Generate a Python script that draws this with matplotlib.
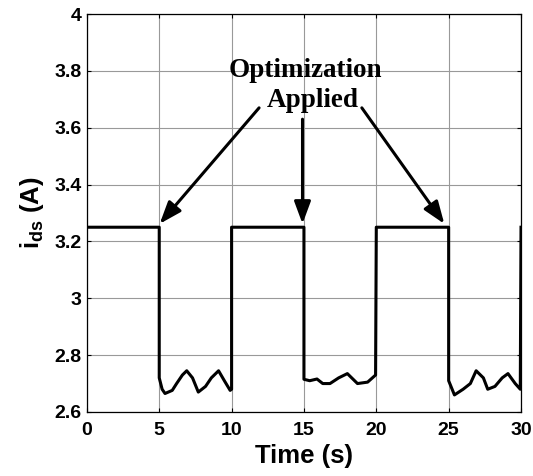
"""
Stator d-axis current with the optimization steps marked.
"""
import matplotlib
matplotlib.use("Agg")
import matplotlib.pyplot as plt

# measured current trace (time in s, current in A)
time = [0, 5.0, 5.0, 5.2, 5.4, 5.9, 6.2, 6.6, 6.9, 7.3, 7.7, 8.2, 8.6, 9.1, 9.5, 9.9,
        10.0, 10.0, 15.0, 15.0, 15.4, 15.9, 16.3, 16.8, 17.4, 18.0, 18.4, 18.7,
        19.4, 19.95, 20.0, 20.0, 25.0, 25.0, 25.4, 26.0, 26.5, 26.9, 27.4, 27.7,
        28.2, 28.7, 29.1, 29.6, 29.95, 30.0]
ids = [3.25, 3.25, 2.72, 2.68, 2.665, 2.676, 2.70, 2.73, 2.745, 2.72, 2.67, 2.69,
       2.72, 2.745, 2.71, 2.676, 2.68, 3.25, 3.25, 2.715, 2.71, 2.716, 2.70, 2.70,
       2.72, 2.735, 2.715, 2.70, 2.705, 2.73, 3.25, 3.25, 3.25, 2.71, 2.66, 2.68,
       2.70, 2.745, 2.72, 2.68, 2.69, 2.72, 2.735, 2.70, 2.68, 3.25]

xticks = [0, 5, 10, 15, 20, 25, 30]
yticks = [2.6, 2.8, 3.0, 3.2, 3.4, 3.6, 3.8, 4.0]
yticklabels = ["2.6", "2.8", "3", "3.2", "3.4", "3.6", "3.8", "4"]

# annotation: two text lines and the three arrows
note_lines = ["Optimization", "Applied"]
note_pos = [(15.1, 3.80), (15.6, 3.695)]
arrow_starts = [(11.9, 3.67), (14.9, 3.63), (19.0, 3.67)]
arrow_tips = [(5.03, 3.262), (14.9, 3.262), (24.7, 3.262)]

plt.rcParams["font.family"] = ["Liberation Sans", "DejaVu Sans"]
plt.rcParams["mathtext.fontset"] = "custom"
plt.rcParams["mathtext.rm"] = "Liberation Sans:bold"
plt.rcParams["mathtext.bf"] = "Liberation Sans:bold"

fig = plt.figure(figsize=(5.33, 4.76), dpi=100)
ax = fig.add_axes([0.163, 0.1345, 0.8145, 0.836])

ax.plot(time, ids, color="black", linewidth=2.2, zorder=3)

ax.set_xlim(0, 30)
ax.set_ylim(2.6, 4.0)
ax.set_xticks(xticks)
ax.set_yticks(yticks)
ax.set_yticklabels(yticklabels)
ax.grid(True, color="#999999", linewidth=0.8)
ax.tick_params(direction="in", length=3, width=0.8, top=True, right=True,
               labelsize=14, pad=4)
ax.tick_params(axis="x", pad=7)
for lab in ax.get_xticklabels() + ax.get_yticklabels():
    lab.set_fontweight("bold")
for sp in ax.spines.values():
    sp.set_linewidth(0.9)

ax.set_xlabel("Time (s)", fontsize=18.5, fontweight="bold", labelpad=4)
ax.set_ylabel(r"i$_{\mathbf{ds}}$ (A)", fontsize=18.5, fontweight="bold",
              labelpad=6)

for txt, (tx, ty) in zip(note_lines, note_pos):
    ax.text(tx, ty, txt, ha="center", va="center", fontsize=19.5,
            fontweight="bold", family=["Liberation Serif"], zorder=4)

for (x0, y0), (x1, y1) in zip(arrow_starts, arrow_tips):
    ax.annotate("", xy=(x1, y1), xytext=(x0, y0),
                arrowprops=dict(arrowstyle="-|>,head_length=1.35,head_width=0.5",
                                color="black", linewidth=2.2,
                                shrinkA=0, shrinkB=0),
                zorder=4)

plt.savefig("out.png", dpi=100)
